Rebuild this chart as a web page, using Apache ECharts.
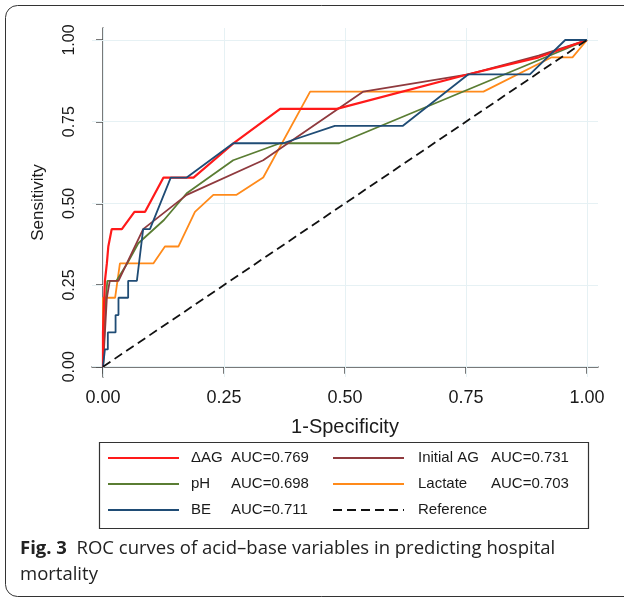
<!DOCTYPE html>
<html>
<head>
<meta charset="utf-8">
<script src="https://cdn.jsdelivr.net/npm/echarts@6/dist/echarts.min.js"></script>
<style>
  html, body { margin: 0; padding: 0; background: #fff; }
  #container { width: 624px; height: 600px; }
</style>
</head>
<body>
<div id="container"></div>
<script>
// tick positions shared by both axes
const tickValues = [0, 0.25, 0.5, 0.75, 1];

// legend text
const aucText = {
    'ΔAG': 'AUC=0.769',
    'Initial AG': 'AUC=0.731',
    'pH': 'AUC=0.698',
    'Lactate': 'AUC=0.703',
    'BE': 'AUC=0.711',
    'Reference': ''
};

// ROC points, [1-specificity, sensitivity]
const dagPoints = [[0, 0], [0, 0.105], [0.004, 0.263], [0.008, 0.316], [0.011, 0.368], [0.018, 0.421],
    [0.039, 0.421], [0.065, 0.474], [0.087, 0.474], [0.125, 0.579], [0.187, 0.579], [0.27, 0.684],
    [0.366, 0.789], [0.483, 0.789], [0.755, 0.895], [0.9, 0.947], [1, 1]];
const initialAgPoints = [[0, 0], [0.004, 0.105], [0.008, 0.211], [0.014, 0.263], [0.032, 0.263],
    [0.083, 0.421], [0.173, 0.526], [0.331, 0.632], [0.538, 0.842], [0.755, 0.895], [0.9, 0.952], [1, 1]];
const phPoints = [[0, 0], [0.003, 0.105], [0.006, 0.211], [0.009, 0.263], [0.028, 0.263], [0.05, 0.316],
    [0.073, 0.378], [0.126, 0.449], [0.173, 0.531], [0.269, 0.632], [0.366, 0.684], [0.488, 0.684], [1, 1]];
const lactatePoints = [[0, 0], [0, 0.211], [0.025, 0.211], [0.035, 0.316], [0.104, 0.316], [0.128, 0.368],
    [0.156, 0.368], [0.19, 0.474], [0.228, 0.526], [0.276, 0.526], [0.331, 0.579], [0.428, 0.842],
    [0.786, 0.842], [0.927, 0.947], [0.97, 0.947], [1, 1]];
const bePoints = [[0, 0], [0.004, 0], [0.004, 0.053], [0.01, 0.053], [0.01, 0.105], [0.026, 0.105],
    [0.026, 0.158], [0.032, 0.158], [0.032, 0.211], [0.052, 0.211], [0.052, 0.263], [0.07, 0.263],
    [0.083, 0.421], [0.097, 0.421], [0.14, 0.579], [0.173, 0.579], [0.269, 0.684], [0.372, 0.684],
    [0.479, 0.737], [0.619, 0.737], [0.755, 0.895], [0.882, 0.895], [0.955, 1], [1, 1]];
const referencePoints = [[0, 0], [1, 1]];

var dom = document.getElementById('container');
var myChart = echarts.init(dom, null, { renderer: 'canvas' });

const axisColor = '#4d4d4d';
const gridColor = '#e6f1f4';

function roc(name, data, color, z, width) {
    return {
        name: name,
        type: 'line',
        data: data,
        symbol: 'none',
        z: z,
        lineStyle: { color: color, width: width || 1.8 },
        itemStyle: { color: color },
        animation: false
    };
}

function legendFormatter(name) {
    return '{n|' + name + '}{a|' + aucText[name] + '}';
}

var option = {
    animation: false,
    grid: { left: 92, right: 26, top: 28, height: 349 },
    xAxis: {
        type: 'value',
        min: -0.0227,
        max: 1.0227,
        name: '1-Specificity',
        nameLocation: 'middle',
        nameGap: 40,
        nameTextStyle: { fontFamily: 'Liberation Sans', fontSize: 20, color: '#1a1a1a' },
        axisLine: { show: true, lineStyle: { color: axisColor, width: 1.5 } },
        axisTick: { show: true, customValues: tickValues, length: 7, lineStyle: { color: axisColor, width: 1.5 } },
        axisLabel: {
            customValues: tickValues,
            margin: 12,
            fontFamily: 'Liberation Sans', fontSize: 18, color: '#1a1a1a',
            formatter: function (v) { return v.toFixed(2); }
        },
        splitLine: { show: false }
    },
    yAxis: {
        type: 'value',
        min: -0.0315,
        max: 1.0367,
        name: 'Sensitivity',
        nameLocation: 'middle',
        nameGap: 45,
        nameTextStyle: { fontFamily: 'Liberation Sans', fontSize: 17, color: '#1a1a1a' },
        axisLine: { show: true, lineStyle: { color: axisColor, width: 1.5 } },
        axisTick: { show: true, customValues: tickValues, length: 7, lineStyle: { color: axisColor, width: 1.5 } },
        axisLabel: {
            customValues: tickValues,
            rotate: 90,
            margin: 14,
            fontFamily: 'Liberation Sans', fontSize: 16, color: '#1a1a1a',
            formatter: function (v) { return v.toFixed(2); }
        },
        splitLine: { show: false }
    },
    legend: [
        {
            data: ['ΔAG', 'pH', 'BE'],
            orient: 'vertical',
            left: 107, top: 449,
            padding: 0,
            itemWidth: 71, itemHeight: 14, itemGap: 8,
            itemStyle: { opacity: 0 },
            formatter: legendFormatter,
            textStyle: {
                fontFamily: 'Liberation Sans', fontSize: 15, color: '#1a1a1a', lineHeight: 18,
                rich: {
                    n: { width: 40, padding: [0, 0, 0, 7], fontFamily: 'Liberation Sans', fontSize: 15, color: '#1a1a1a' },
                    a: { fontFamily: 'Liberation Sans', fontSize: 15, color: '#1a1a1a' }
                }
            }
        },
        {
            data: ['Initial AG', 'Lactate', 'Reference'],
            orient: 'vertical',
            left: 332, top: 449,
            padding: 0,
            itemWidth: 71, itemHeight: 14, itemGap: 8,
            itemStyle: { opacity: 0 },
            formatter: legendFormatter,
            textStyle: {
                fontFamily: 'Liberation Sans', fontSize: 15, color: '#1a1a1a', lineHeight: 18,
                rich: {
                    n: { width: 73, padding: [0, 0, 0, 9], fontFamily: 'Liberation Sans', fontSize: 15, color: '#1a1a1a' },
                    a: { fontFamily: 'Liberation Sans', fontSize: 15, color: '#1a1a1a' }
                }
            }
        }
    ],
    graphic: [
        {
            type: 'rect',
            shape: { x: 5.5, y: 5.5, width: 660, height: 591, r: 12 },
            style: { fill: 'none', stroke: '#333', lineWidth: 1 },
            silent: true
        },
        {
            type: 'rect',
            shape: { x: 99.5, y: 442.5, width: 489, height: 86 },
            style: { fill: 'none', stroke: '#333', lineWidth: 1.2 },
            silent: true
        },
        {
            type: 'text',
            left: 20, top: 536,
            style: {
                text: '{b|Fig. 3}  ROC curves of acid–base variables in predicting hospital\nmortality',
                fontFamily: 'Open Sans', fontSize: 18.5, fill: '#222', lineHeight: 26,
                rich: {
                    b: { fontFamily: 'Open Sans', fontWeight: 'bold', fontSize: 18.5, fill: '#222', lineHeight: 26 }
                }
            }
        }
    ],
    series: [
        roc('ΔAG', dagPoints, '#ff1a1a', 6, 2.2),
        roc('Initial AG', initialAgPoints, '#8f3a3e', 5),
        roc('pH', phPoints, '#5a7d33', 4),
        roc('Lactate', lactatePoints, '#ff8a1a', 3),
        roc('BE', bePoints, '#1f4c75', 7),
        {
            name: 'Reference',
            type: 'line',
            data: referencePoints,
            symbol: 'none',
            z: 8,
            lineStyle: { color: '#111', width: 1.8, type: [9, 5] },
            itemStyle: { color: '#111' },
            markLine: {
                silent: true,
                symbol: 'none',
                z: 1,
                label: { show: false },
                lineStyle: { color: gridColor, width: 1, type: 'solid' },
                data: tickValues.map(v => ({ xAxis: v })).concat(tickValues.map(v => ({ yAxis: v })))
            }
        }
    ]
};

if (option && typeof option === 'object') {
    myChart.setOption(option);
}

window.addEventListener('resize', myChart.resize);
</script>
</body>
</html>
